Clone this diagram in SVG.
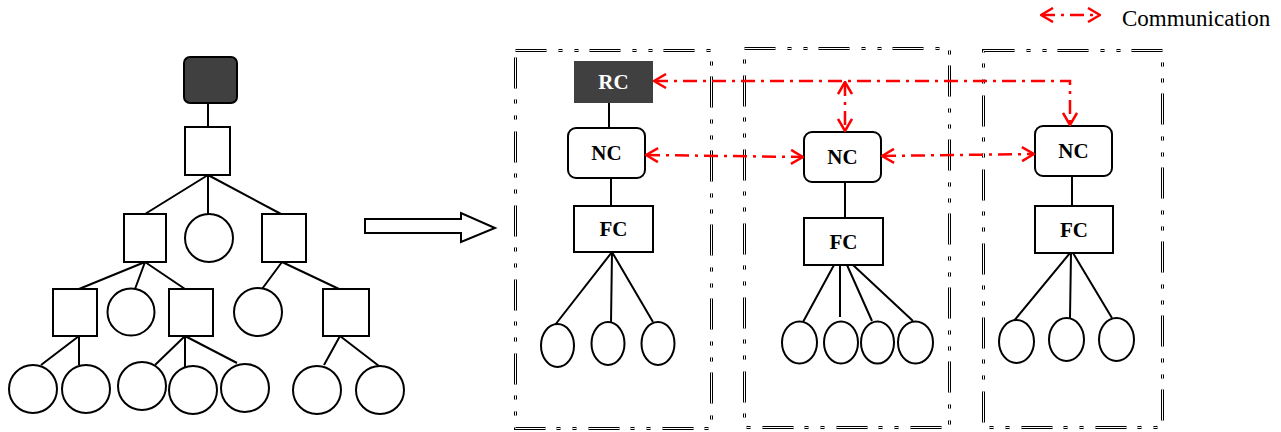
<svg xmlns="http://www.w3.org/2000/svg" width="1281" height="432" viewBox="0 0 1281 432">
  <style>
    .n { fill: #ffffff; stroke: #000000; stroke-width: 2; }
    .dark { fill: #404040; stroke: #000000; stroke-width: 2; }
    .solid { fill: #404040; stroke: none; }
    .ln { stroke: #000000; stroke-width: 2; fill: none; }
    .lbl { font-family: "Liberation Serif", "Times New Roman", serif; font-weight: bold; font-size: 21px; text-anchor: middle; fill: #000000; }
    .lbl.w { fill: #ffffff; }
    .leg { font-family: "Liberation Serif", "Times New Roman", serif; font-size: 23px; fill: #000000; }
    .frame-o { fill: none; stroke: #000000; stroke-width: 3; stroke-dasharray: 31 12 4 12 4 11; }
    .frame-i { fill: none; stroke: #ffffff; stroke-width: 1; stroke-dasharray: 31 12 4 12 4 11; }
    .comm { fill: none; stroke: #ff0000; stroke-width: 2.5; stroke-dasharray: 14 6 3 6; marker-start: url(#chev); marker-end: url(#chev); }
    .big { fill: #ffffff; stroke: #000000; stroke-width: 2; stroke-linejoin: miter; }
  </style>
  <defs>
    <marker id="chev" viewBox="0 0 14 16" refX="13" refY="8" markerWidth="14" markerHeight="16" markerUnits="userSpaceOnUse" orient="auto-start-reverse">
      <path d="M1,1 L13,8 L1,15" fill="none" stroke="#ff0000" stroke-width="2.5" stroke-dasharray="none"/>
    </marker>
  </defs>
  <rect width="1281" height="432" fill="#ffffff"/>

  <!-- domain frames (double dash-dot-dot outline) -->
  <g id="frames">
    <g id="frame1">
      <rect class="frame-o" x="515.5" y="50.5" width="196" height="378"/>
      <rect class="frame-i" x="515.5" y="50.5" width="196" height="378"/>
    </g>
    <g id="frame2">
      <rect class="frame-o" x="744.5" y="48.5" width="205" height="379"/>
      <rect class="frame-i" x="744.5" y="48.5" width="205" height="379"/>
    </g>
    <g id="frame3">
      <rect class="frame-o" x="983.5" y="50.5" width="179" height="377"/>
      <rect class="frame-i" x="983.5" y="50.5" width="179" height="377"/>
    </g>
  </g>

  <!-- tree links -->
  <g id="connectors">
    <path class="ln" d="M208,103 V127"/>
    <path class="ln" d="M208,175 L145,214 M208,175 V214 M208,175 L281,214"/>
    <path class="ln" d="M145,262 L79,289 M145,262 L135,289 M145,262 L185,289"/>
    <path class="ln" d="M282,262 L262,289 M282,262 L339,289"/>
    <path class="ln" d="M79,336 L41,365 M79,336 V365"/>
    <path class="ln" d="M185,336 L155,365 M185,336 V367 M185,336 L237,363"/>
    <path class="ln" d="M340,336 L324,365 M340,336 L379,366"/>

    <path class="ln" d="M609,103 V128 M611,178 V206"/>
    <path class="ln" d="M612,252 L555,325 M612,252 L611,323 M612,252 L653,322"/>
    <path class="ln" d="M845,182 V218"/>
    <path class="ln" d="M834,265 L803,322 M840,265 V317 M847,265 L872,321 M853,265 L913,321"/>
    <path class="ln" d="M1072,176 V206"/>
    <path class="ln" d="M1070,253 L1013,322 M1071,253 L1070,318 M1073,253 L1112,318"/>
  </g>

  <!-- hierarchical tree -->
  <g id="tree">
    <rect id="t-root" class="dark" x="184" y="57" width="53" height="46" rx="6"/>
    <rect id="t-s1" class="n" x="185" y="127" width="45" height="48"/>
    <rect id="t-s2a" class="n" x="124" y="214" width="42" height="48"/>
    <circle id="t-c2b" class="n" cx="209" cy="238" r="24"/>
    <rect id="t-s2c" class="n" x="262" y="214" width="44" height="48"/>
    <rect id="t-s3a" class="n" x="53" y="289" width="44" height="47"/>
    <circle id="t-c3b" class="n" cx="131" cy="312" r="23.5"/>
    <rect id="t-s3c" class="n" x="169" y="289" width="44" height="47"/>
    <circle id="t-c3d" class="n" cx="258" cy="312" r="24"/>
    <rect id="t-s3e" class="n" x="323" y="289" width="46" height="47"/>
    <circle id="t-c4a" class="n" cx="33" cy="389" r="24"/>
    <circle id="t-c4b" class="n" cx="86" cy="389" r="24"/>
    <circle id="t-c4c" class="n" cx="142" cy="386" r="24"/>
    <circle id="t-c4d" class="n" cx="193" cy="390" r="24"/>
    <circle id="t-c4e" class="n" cx="245" cy="388" r="24"/>
    <circle id="t-c4f" class="n" cx="317" cy="390" r="24"/>
    <circle id="t-c4g" class="n" cx="380" cy="390" r="24"/>
  </g>

  <!-- transformation arrow -->
  <g id="transform-arrow">
    <polygon class="big" points="365,219 461,219 461,213 495,228 461,242 461,233 365,233"/>
  </g>

  <!-- controllers -->
  <g id="rc">
    <rect class="solid" x="574" y="61" width="79" height="42"/>
    <text class="lbl w" x="613.5" y="89">RC</text>
  </g>
  <g id="nc1">
    <rect class="n" x="568" y="128" width="77" height="50" rx="8"/>
    <text class="lbl" x="606.5" y="160">NC</text>
  </g>
  <g id="fc1">
    <rect class="n" x="574" y="206" width="79" height="46"/>
    <text class="lbl" x="613.5" y="236">FC</text>
  </g>
  <g id="d1">
    <ellipse class="n" cx="557.5" cy="345.5" rx="16.5" ry="21.5"/>
    <ellipse class="n" cx="608" cy="343.5" rx="16.5" ry="21.5"/>
    <ellipse class="n" cx="658" cy="343.5" rx="16.5" ry="21.5"/>
  </g>

  <g id="nc2">
    <rect class="n" x="804" y="132" width="77" height="50" rx="8"/>
    <text class="lbl" x="842.5" y="164">NC</text>
  </g>
  <g id="fc2">
    <rect class="n" x="804" y="218" width="79" height="47"/>
    <text class="lbl" x="843.5" y="249">FC</text>
  </g>
  <g id="d2">
    <ellipse class="n" cx="799.5" cy="342.5" rx="17.5" ry="21"/>
    <ellipse class="n" cx="841" cy="342.5" rx="17" ry="21"/>
    <ellipse class="n" cx="877.5" cy="342.5" rx="16.5" ry="21"/>
    <ellipse class="n" cx="915.5" cy="342.5" rx="17.5" ry="21"/>
  </g>

  <g id="nc3">
    <rect class="n" x="1035" y="126" width="77" height="50" rx="8"/>
    <text class="lbl" x="1073.5" y="158">NC</text>
  </g>
  <g id="fc3">
    <rect class="n" x="1035" y="206" width="78" height="47"/>
    <text class="lbl" x="1074" y="237">FC</text>
  </g>
  <g id="d3">
    <ellipse class="n" cx="1016.5" cy="341.5" rx="17.5" ry="21.5"/>
    <ellipse class="n" cx="1066.5" cy="339.5" rx="17.5" ry="21.5"/>
    <ellipse class="n" cx="1116.5" cy="339.5" rx="17.5" ry="21.5"/>
  </g>

  <!-- communication links -->
  <g id="communication">
    <path class="comm" d="M654,81 H1070 V125"/>
    <path class="comm" d="M845,82 V131"/>
    <path class="comm" d="M646,155 L803,157"/>
    <path class="comm" d="M882,156 L1034,154"/>
  </g>

  <!-- legend -->
  <g id="legend">
    <path class="comm" d="M1041,15 H1100"/>
    <text class="leg" x="1122" y="26">Communication</text>
  </g>
</svg>
